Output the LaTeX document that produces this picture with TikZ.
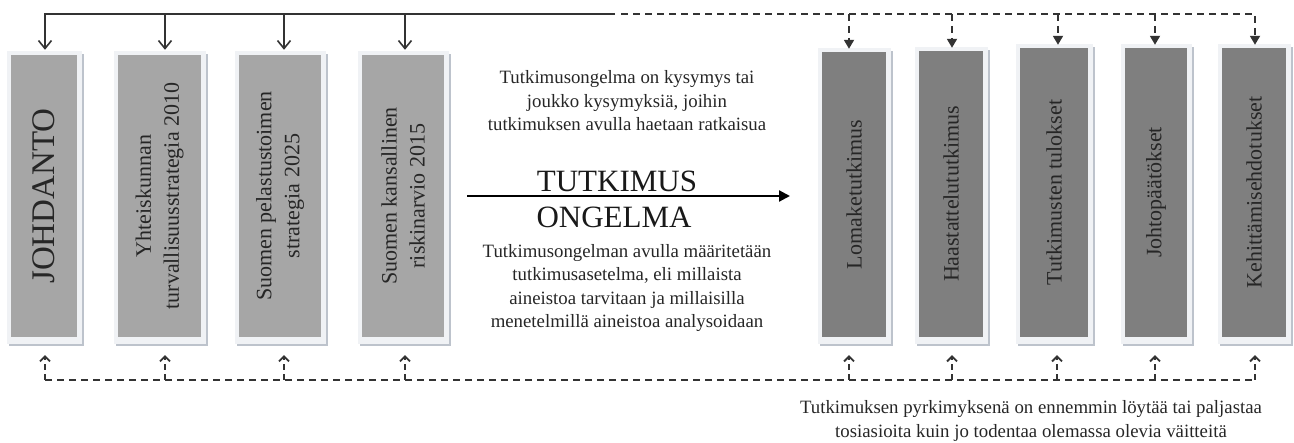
\documentclass[tikz,border=0pt]{standalone}
\usepackage{fontspec}
\setmainfont{Liberation Serif}
\usetikzlibrary{arrows.meta,calc,backgrounds}
\definecolor{boxA}{HTML}{A6A6A6}
\definecolor{boxB}{HTML}{7F7F7F}
\definecolor{framec}{HTML}{F0F2F5}
\definecolor{shadowc}{HTML}{BDC3CC}
\definecolor{txt}{HTML}{262626}
\definecolor{linec}{HTML}{333333}
\begin{document}
\begin{tikzpicture}[x=1pt,y=-1pt,
  lbox/.style={rectangle, fill=boxA, inner sep=0pt},
  rbox/.style={rectangle, fill=boxB, inner sep=0pt},
  vtext/.style={rotate=90, align=center, text=txt, inner sep=0pt, font=\fontsize{22}{28}\selectfont},
  smalltext/.style={align=center, text=txt, inner sep=0pt, font=\fontsize{18.8}{23.5}\selectfont},
  bigtext/.style={text=black!90, inner sep=0pt, font=\fontsize{31}{34}\selectfont},
  topline/.style={draw=linec, line width=1.6pt, -{Straight Barb[length=8pt,width=13pt]}},
  topdash/.style={draw=linec, line width=1.8pt, dash pattern=on 7pt off 5pt, -{Triangle[length=9pt,width=10pt]}},
  botdash/.style={draw=linec, line width=1.8pt, dash pattern=on 7pt off 5pt},
  botarrow/.style={draw=linec, line width=1.8pt, dash pattern=on 6pt off 4pt, -{Straight Barb[length=5pt,width=10pt]}},
  midarrow/.style={draw=black, line width=2.2pt, -{Triangle[length=11pt,width=11pt]}}
]
\useasboundingbox (0,0) rectangle (1294,443);

% boxes
\node[lbox, minimum width=66pt, minimum height=282pt] (b1) at (44,196) {};
\node[lbox, minimum width=83pt, minimum height=282pt] (b2) at (159.5,196) {};
\node[lbox, minimum width=82pt, minimum height=282pt] (b3) at (280,196) {};
\node[lbox, minimum width=82pt, minimum height=282pt] (b4) at (403,196) {};
\node[rbox, minimum width=64pt, minimum height=285pt] (r1) at (854,194.5) {};
\node[rbox, minimum width=64pt, minimum height=286pt] (r2) at (951,194) {};
\node[rbox, minimum width=68pt, minimum height=289pt] (r3) at (1054,192.5) {};
\node[rbox, minimum width=62pt, minimum height=289pt] (r4) at (1156,192.5) {};
\node[rbox, minimum width=64pt, minimum height=289pt] (r5) at (1254,192.5) {};

\begin{scope}[on background layer]
\foreach \n in {b1,b2,b3,b4,r1,r2,r3,r4,r5}{
  \fill[shadowc] ($(\n.north west)+(-2,-1)$) rectangle ($(\n.south east)+(7,9)$);
  \fill[framec] ($(\n.north west)+(-4,-4)$) rectangle ($(\n.south east)+(5,7)$);
}
\end{scope}

% box texts
\node[vtext, font=\fontsize{33}{36}\selectfont] (b1t) at (b1) {JOHDANTO};
\node[vtext] (b2t) at (b2) {Yhteiskunnan\\turvallisuusstrategia 2010};
\node[vtext] (b3t) at (b3) {Suomen pelastustoimen\\strategia 2025};
\node[vtext] (b4t) at (b4) {Suomen kansallinen\\riskinarvio 2015};
\node[vtext] (r1t) at (r1) {Lomaketutkimus};
\node[vtext] (r2t) at (r2) {Haastattelututkimus};
\node[vtext] (r3t) at (r3) {Tutkimusten tulokset};
\node[vtext] (r4t) at (r4) {Johtopäätökset};
\node[vtext] (r5t) at (r5) {Kehittämisehdotukset};

% top connectors
\coordinate (tl) at (45,14);
\coordinate (tsend) at (615,14);
\coordinate (tdstart) at (621,14);
\coordinate (tr) at (1255,14);
\coordinate (t2) at (165,14);
\coordinate (t3) at (284,14);
\coordinate (t4) at (405,14);
\coordinate (u1) at (849,14);
\coordinate (u2) at (952,14);
\coordinate (u3) at (1058,14);
\coordinate (u4) at (1155,14);

\draw[topline] (tsend) -- (tl) -- ($(tl |- b1.north)+(0,-5)$);
\foreach \t/\b in {t2/b2,t3/b3,t4/b4}
  \draw[topline] (\t) -- ($(\t |- \b.north)+(0,-5)$);
\draw[topdash] (tdstart) -- (tr) -- ($(tr |- r5.north)+(0,-3)$);
\foreach \u/\r in {u1/r1,u2/r2,u3/r3,u4/r4}
  \draw[topdash] (\u) -- ($(\u |- \r.north)+(0,-3)$);

% bottom connectors
\coordinate (d1) at (45,380);
\coordinate (d2) at (165,380);
\coordinate (d3) at (284,380);
\coordinate (d4) at (405,380);
\coordinate (e1) at (849,380);
\coordinate (e2) at (952,380);
\coordinate (e3) at (1057,380);
\coordinate (e4) at (1155,380);
\coordinate (e5) at (1255,380);
\draw[botdash] (d1) -- (e5);
\foreach \d/\b in {d1/b1,d2/b2,d3/b3,d4/b4,e1/r1,e2/r2,e3/r3,e4/r4,e5/r5}
  \draw[botarrow] (\d) -- ($(\d |- \b.south)+(0,18)$);

% middle
\node[smalltext] (q1) at (627,101) {Tutkimusongelma on kysymys tai\\joukko kysymyksiä, joihin\\tutkimuksen avulla haetaan ratkaisua};
\node[bigtext] (tk) at (617,181) {TUTKIMUS};
\node[bigtext] (og) at (614,217) {ONGELMA};
\coordinate (m1) at (467,196);
\coordinate (m2) at (790,196);
\draw[midarrow] (m1) -- (m2);
\node[smalltext] (q2) at (627,288) {Tutkimusongelman avulla määritetään\\tutkimusasetelma, eli millaista\\aineistoa tarvitaan ja millaisilla\\menetelmillä aineistoa analysoidaan};

\node[smalltext] (q3) at (1031,421) {Tutkimuksen pyrkimyksenä on ennemmin löytää tai paljastaa\\tosiasioita kuin jo todentaa olemassa olevia väitteitä};
\end{tikzpicture}
\end{document}
